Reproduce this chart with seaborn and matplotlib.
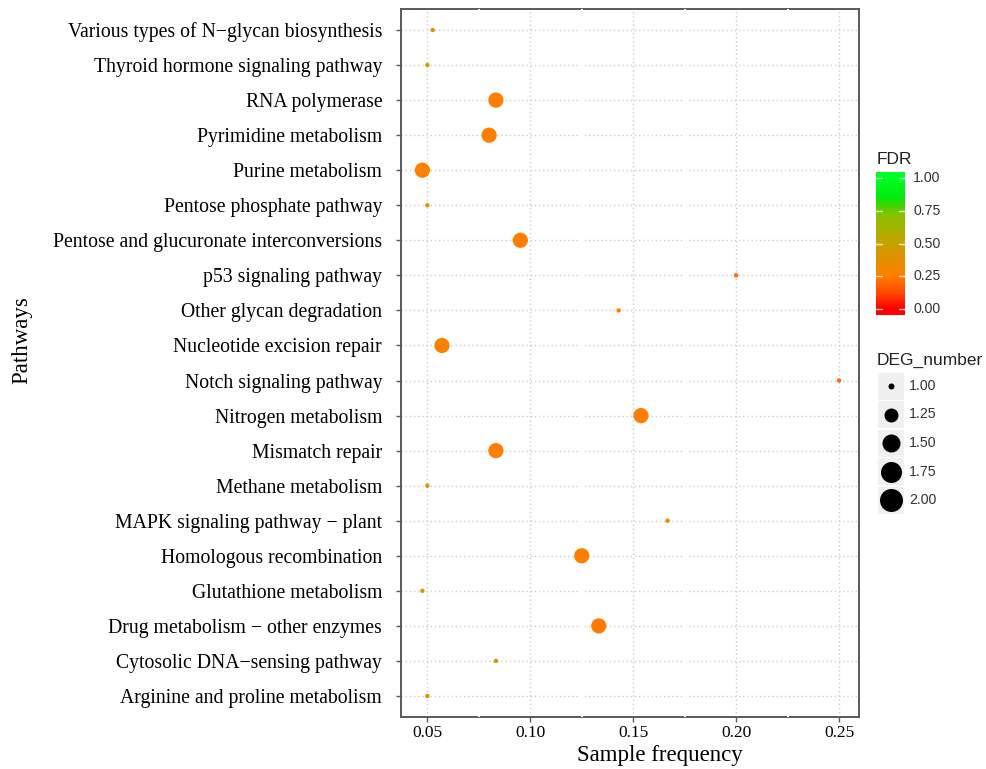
import numpy as np
import pandas as pd
import matplotlib
matplotlib.use("Agg")
import matplotlib.pyplot as plt
import matplotlib.colors as mcolors
from matplotlib.patches import Rectangle
import seaborn as sns

# ---------------- data ----------------
pathways = [
    "Various types of N\u2212glycan biosynthesis",
    "Thyroid hormone signaling pathway",
    "RNA polymerase",
    "Pyrimidine metabolism",
    "Purine metabolism",
    "Pentose phosphate pathway",
    "Pentose and glucuronate interconversions",
    "p53 signaling pathway",
    "Other glycan degradation",
    "Nucleotide excision repair",
    "Notch signaling pathway",
    "Nitrogen metabolism",
    "Mismatch repair",
    "Methane metabolism",
    "MAPK signaling pathway \u2212 plant",
    "Homologous recombination",
    "Glutathione metabolism",
    "Drug metabolism \u2212 other enzymes",
    "Cytosolic DNA\u2212sensing pathway",
    "Arginine and proline metabolism",
]
sample_freq = [0.0526, 0.05, 0.0833, 0.0800, 0.0476, 0.05, 0.0952, 0.20, 0.1429, 0.0571,
               0.25, 0.1538, 0.0833, 0.05, 0.1667, 0.125, 0.0476, 0.1333, 0.0833, 0.05]
deg_number = [1, 1, 2, 2, 2, 1, 2, 1, 1, 2, 1, 2, 2, 1, 1, 2, 1, 2, 1, 1]
fdr = [0.44, 0.44, 0.25, 0.25, 0.28, 0.44, 0.25, 0.20, 0.27, 0.26,
       0.20, 0.25, 0.25, 0.44, 0.25, 0.25, 0.44, 0.24, 0.42, 0.44]

x_ticks = [0.05, 0.10, 0.15, 0.20, 0.25]
x_ticklabels = ["0.05", "0.10", "0.15", "0.20", "0.25"]
fdr_ticks = [0.0, 0.25, 0.5, 0.75, 1.0]
deg_legend = [1.00, 1.25, 1.50, 1.75, 2.00]

df = pd.DataFrame({"pathway": pathways, "freq": sample_freq,
                   "DEG": deg_number, "FDR": fdr})

# ---------------- colour scale: red -> orange -> olive -> green ----------------
cmap = mcolors.LinearSegmentedColormap.from_list(
    "fdr",
    [(0.0, "#FF0000"), (0.12, "#FF4800"), (0.25, "#FF7E00"), (0.5, "#C8A200"),
     (0.72, "#88C200"), (0.80, "#38D800"), (0.86, "#00EC10"), (1.0, "#00FF22")])

# ---------------- figure ----------------
sns.set_style("white")
plt.rcParams["font.family"] = ["Liberation Serif", "DejaVu Serif"]

W, H = 987, 769
fig = plt.figure(figsize=(W / 100, H / 100), dpi=100)
ax = fig.add_axes([401 / W, 1 - 717 / H, (859 - 401) / W, (717 - 9) / H])

sns.scatterplot(data=df, x="freq", y="pathway", hue="FDR", size="DEG",
                palette=cmap, hue_norm=(0, 1), sizes=(10, 120), size_norm=(1, 2),
                legend=False, linewidth=0, ax=ax, zorder=5)

ax.set_xlim(0.0372, 0.2597)
ax.set_ylim(len(pathways) - 1 + 0.6, -0.6)
ax.set_xticks(x_ticks)
ax.set_xticklabels(x_ticklabels)
ax.set_yticks(range(len(pathways)))
ax.set_yticklabels(pathways)
ax.set_xlabel("")
ax.set_ylabel("")

ax.grid(True, color="#cccccc", linestyle=(0, (1, 2)), linewidth=1.0)
ax.set_axisbelow(True)
for s in ax.spines.values():
    s.set_color("#5a5a5a")
    s.set_linewidth(1.4)
    s.set_visible(True)

# minor (white) grid lines that cut the panel border
for xm in [0.075, 0.125, 0.175, 0.225]:
    ax.axvline(xm, color="white", linewidth=1.4, zorder=3)

ax.tick_params(axis="both", which="major", direction="out", color="#5a5a5a",
               width=1.0, length=3.5, bottom=True, left=True)
ax.tick_params(axis="y", labelsize=14.2, pad=10, labelcolor="black")
ax.tick_params(axis="x", labelsize=12.5, pad=2.5, labelcolor="black")

fig.text(660 / W, 1 - 755 / H, "Sample frequency", ha="center", va="center",
         fontsize=16.5, color="black")
fig.text(22 / W, 1 - 340 / H, "Pathways", ha="center", va="center",
         rotation=90, fontsize=16.5, color="black")

# ---------------- FDR colour bar ----------------
sans = ["Liberation Sans", "DejaVu Sans"]
cax = fig.add_axes([876 / W, 1 - 315 / H, 29 / W, (315 - 172) / H])
grad = np.linspace(-0.045, 1.045, 300)[:, None]
cax.imshow(grad, aspect="auto", cmap=cmap, vmin=0, vmax=1, origin="lower",
           extent=[0, 1, -0.045, 1.045])
cax.set_xlim(0, 1)
cax.set_ylim(-0.045, 1.045)
cax.set_xticks([])
cax.set_yticks([])
for s in cax.spines.values():
    s.set_visible(False)
for v in fdr_ticks:
    cax.plot([0, 0.2], [v, v], color="white", lw=1.0, alpha=0.8)
    cax.plot([0.8, 1.0], [v, v], color="white", lw=1.0, alpha=0.8)
    cax.text(1.28, v, f"{v:.2f}", transform=cax.transData, ha="left", va="center",
             fontsize=10.2, color="#333333", family=sans, clip_on=False)
fig.text(877 / W, 1 - 160 / H, "FDR", ha="left", va="center", fontsize=12.5,
         color="#222222", family=sans)

# ---------------- DEG_number size legend ----------------
fig.text(877 / W, 1 - 360 / H, "DEG_number", ha="left", va="center", fontsize=12.5,
         color="#222222", family=sans)
leg_d = [6, 14, 18, 21, 23]  # diameters in px
lax = fig.add_axes([0, 0, 1, 1], zorder=-1)
lax.set_xlim(0, W)
lax.set_ylim(H, 0)
lax.axis("off")
for i, (val, d) in enumerate(zip(deg_legend, leg_d)):
    yc = 386 + i * 28.5
    lax.add_patch(Rectangle((878, yc - 13.5), 26, 27, facecolor="#f0f0f0",
                            edgecolor="none"))
    lax.scatter([891], [yc], s=(d * 0.72) ** 2, color="black", linewidths=0)
    lax.text(909, yc, f"{val:.2f}", ha="left", va="center", fontsize=10.2,
             color="#333333", family=sans)

fig.savefig("out.png", dpi=100, facecolor="white")
